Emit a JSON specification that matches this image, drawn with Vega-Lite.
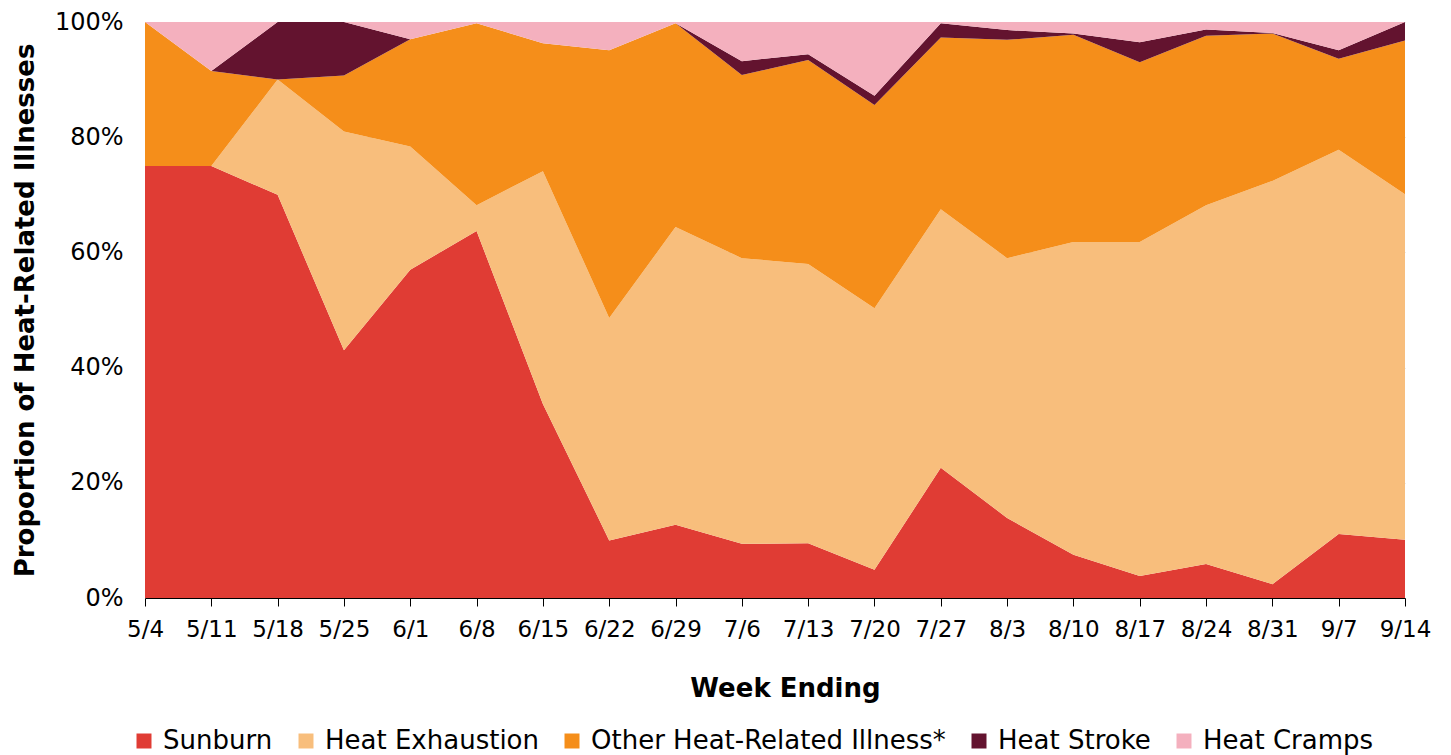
{
  "$schema": "https://vega.github.io/schema/vega-lite/v6.json",
  "width": 1260,
  "height": 576,
  "autosize": {"type": "none"},
  "padding": {"left": 145, "top": 22, "right": 46, "bottom": 157},
  "config": {
    "font": "DejaVu Sans",
    "view": {"stroke": null},
    "axis": {"labelColor": "#000000", "titleColor": "#000000"}
  },
  "datasets": {
    "stackorder": [
      {"illness": "Sunburn", "rank": 1},
      {"illness": "Heat Exhaustion", "rank": 2},
      {"illness": "Other Heat-Related Illness*", "rank": 3},
      {"illness": "Heat Stroke", "rank": 4},
      {"illness": "Heat Cramps", "rank": 5}
    ]
  },
  "data": {
    "values": [
      {"week": "5/4", "illness": "Sunburn", "pct": 75},
      {"week": "5/4", "illness": "Heat Exhaustion", "pct": 0},
      {"week": "5/4", "illness": "Other Heat-Related Illness*", "pct": 25},
      {"week": "5/4", "illness": "Heat Stroke", "pct": 0},
      {"week": "5/4", "illness": "Heat Cramps", "pct": 0},
      {"week": "5/11", "illness": "Sunburn", "pct": 75},
      {"week": "5/11", "illness": "Heat Exhaustion", "pct": 0},
      {"week": "5/11", "illness": "Other Heat-Related Illness*", "pct": 16.5},
      {"week": "5/11", "illness": "Heat Stroke", "pct": 0},
      {"week": "5/11", "illness": "Heat Cramps", "pct": 8.5},
      {"week": "5/18", "illness": "Sunburn", "pct": 70},
      {"week": "5/18", "illness": "Heat Exhaustion", "pct": 20},
      {"week": "5/18", "illness": "Other Heat-Related Illness*", "pct": 0},
      {"week": "5/18", "illness": "Heat Stroke", "pct": 10},
      {"week": "5/18", "illness": "Heat Cramps", "pct": 0},
      {"week": "5/25", "illness": "Sunburn", "pct": 43},
      {"week": "5/25", "illness": "Heat Exhaustion", "pct": 38},
      {"week": "5/25", "illness": "Other Heat-Related Illness*", "pct": 9.7},
      {"week": "5/25", "illness": "Heat Stroke", "pct": 9.3},
      {"week": "5/25", "illness": "Heat Cramps", "pct": 0},
      {"week": "6/1", "illness": "Sunburn", "pct": 57},
      {"week": "6/1", "illness": "Heat Exhaustion", "pct": 21.4},
      {"week": "6/1", "illness": "Other Heat-Related Illness*", "pct": 18.6},
      {"week": "6/1", "illness": "Heat Stroke", "pct": 0},
      {"week": "6/1", "illness": "Heat Cramps", "pct": 3},
      {"week": "6/8", "illness": "Sunburn", "pct": 63.7},
      {"week": "6/8", "illness": "Heat Exhaustion", "pct": 4.5},
      {"week": "6/8", "illness": "Other Heat-Related Illness*", "pct": 31.6},
      {"week": "6/8", "illness": "Heat Stroke", "pct": 0},
      {"week": "6/8", "illness": "Heat Cramps", "pct": 0.2},
      {"week": "6/15", "illness": "Sunburn", "pct": 33.7},
      {"week": "6/15", "illness": "Heat Exhaustion", "pct": 40.4},
      {"week": "6/15", "illness": "Other Heat-Related Illness*", "pct": 22.2},
      {"week": "6/15", "illness": "Heat Stroke", "pct": 0},
      {"week": "6/15", "illness": "Heat Cramps", "pct": 3.7},
      {"week": "6/22", "illness": "Sunburn", "pct": 10},
      {"week": "6/22", "illness": "Heat Exhaustion", "pct": 38.6},
      {"week": "6/22", "illness": "Other Heat-Related Illness*", "pct": 46.5},
      {"week": "6/22", "illness": "Heat Stroke", "pct": 0},
      {"week": "6/22", "illness": "Heat Cramps", "pct": 4.9},
      {"week": "6/29", "illness": "Sunburn", "pct": 12.7},
      {"week": "6/29", "illness": "Heat Exhaustion", "pct": 51.7},
      {"week": "6/29", "illness": "Other Heat-Related Illness*", "pct": 35.4},
      {"week": "6/29", "illness": "Heat Stroke", "pct": 0},
      {"week": "6/29", "illness": "Heat Cramps", "pct": 0.2},
      {"week": "7/6", "illness": "Sunburn", "pct": 9.4},
      {"week": "7/6", "illness": "Heat Exhaustion", "pct": 49.6},
      {"week": "7/6", "illness": "Other Heat-Related Illness*", "pct": 31.8},
      {"week": "7/6", "illness": "Heat Stroke", "pct": 2.4},
      {"week": "7/6", "illness": "Heat Cramps", "pct": 6.8},
      {"week": "7/13", "illness": "Sunburn", "pct": 9.5},
      {"week": "7/13", "illness": "Heat Exhaustion", "pct": 48.5},
      {"week": "7/13", "illness": "Other Heat-Related Illness*", "pct": 35.4},
      {"week": "7/13", "illness": "Heat Stroke", "pct": 1.0},
      {"week": "7/13", "illness": "Heat Cramps", "pct": 5.6},
      {"week": "7/20", "illness": "Sunburn", "pct": 4.9},
      {"week": "7/20", "illness": "Heat Exhaustion", "pct": 45.4},
      {"week": "7/20", "illness": "Other Heat-Related Illness*", "pct": 35.3},
      {"week": "7/20", "illness": "Heat Stroke", "pct": 1.6},
      {"week": "7/20", "illness": "Heat Cramps", "pct": 12.8},
      {"week": "7/27", "illness": "Sunburn", "pct": 22.6},
      {"week": "7/27", "illness": "Heat Exhaustion", "pct": 44.9},
      {"week": "7/27", "illness": "Other Heat-Related Illness*", "pct": 29.8},
      {"week": "7/27", "illness": "Heat Stroke", "pct": 2.5},
      {"week": "7/27", "illness": "Heat Cramps", "pct": 0.2},
      {"week": "8/3", "illness": "Sunburn", "pct": 13.9},
      {"week": "8/3", "illness": "Heat Exhaustion", "pct": 45.1},
      {"week": "8/3", "illness": "Other Heat-Related Illness*", "pct": 37.9},
      {"week": "8/3", "illness": "Heat Stroke", "pct": 1.7},
      {"week": "8/3", "illness": "Heat Cramps", "pct": 1.4},
      {"week": "8/10", "illness": "Sunburn", "pct": 7.5},
      {"week": "8/10", "illness": "Heat Exhaustion", "pct": 54.3},
      {"week": "8/10", "illness": "Other Heat-Related Illness*", "pct": 36},
      {"week": "8/10", "illness": "Heat Stroke", "pct": 0.2},
      {"week": "8/10", "illness": "Heat Cramps", "pct": 2},
      {"week": "8/17", "illness": "Sunburn", "pct": 3.8},
      {"week": "8/17", "illness": "Heat Exhaustion", "pct": 58},
      {"week": "8/17", "illness": "Other Heat-Related Illness*", "pct": 31.2},
      {"week": "8/17", "illness": "Heat Stroke", "pct": 3.5},
      {"week": "8/17", "illness": "Heat Cramps", "pct": 3.5},
      {"week": "8/24", "illness": "Sunburn", "pct": 5.9},
      {"week": "8/24", "illness": "Heat Exhaustion", "pct": 62.3},
      {"week": "8/24", "illness": "Other Heat-Related Illness*", "pct": 29.4},
      {"week": "8/24", "illness": "Heat Stroke", "pct": 1.1},
      {"week": "8/24", "illness": "Heat Cramps", "pct": 1.3},
      {"week": "8/31", "illness": "Sunburn", "pct": 2.4},
      {"week": "8/31", "illness": "Heat Exhaustion", "pct": 70},
      {"week": "8/31", "illness": "Other Heat-Related Illness*", "pct": 25.6},
      {"week": "8/31", "illness": "Heat Stroke", "pct": 0.1},
      {"week": "8/31", "illness": "Heat Cramps", "pct": 1.9},
      {"week": "9/7", "illness": "Sunburn", "pct": 11.1},
      {"week": "9/7", "illness": "Heat Exhaustion", "pct": 66.7},
      {"week": "9/7", "illness": "Other Heat-Related Illness*", "pct": 15.8},
      {"week": "9/7", "illness": "Heat Stroke", "pct": 1.5},
      {"week": "9/7", "illness": "Heat Cramps", "pct": 4.9},
      {"week": "9/14", "illness": "Sunburn", "pct": 10.1},
      {"week": "9/14", "illness": "Heat Exhaustion", "pct": 60},
      {"week": "9/14", "illness": "Other Heat-Related Illness*", "pct": 26.7},
      {"week": "9/14", "illness": "Heat Stroke", "pct": 3.2},
      {"week": "9/14", "illness": "Heat Cramps", "pct": 0}
    ]
  },
  "transform": [
    {
      "lookup": "illness",
      "from": {"data": {"name": "stackorder"}, "key": "illness", "fields": ["rank"]}
    }
  ],
  "mark": {"type": "area", "interpolate": "linear", "strokeWidth": 0},
  "encoding": {
    "x": {
      "field": "week",
      "type": "ordinal",
      "sort": null,
      "scale": {"type": "point", "padding": 0},
      "axis": {
        "title": "Week Ending",
        "labelAngle": 0,
        "labelFontSize": 23,
        "labelPadding": 12,
        "tickSize": 8,
        "tickColor": "#000000",
        "domainColor": "#000000",
        "grid": false,
        "titleFontSize": 26,
        "titleFontWeight": "bold",
        "titlePadding": 34,
        "titleX": 640
      }
    },
    "y": {
      "field": "pct",
      "type": "quantitative",
      "stack": "normalize",
      "scale": {"domain": [0, 1], "nice": false},
      "axis": {
        "title": "Proportion of Heat-Related Illnesses",
        "values": [0, 0.2, 0.4, 0.6, 0.8, 1],
        "format": ".0%",
        "labelFontSize": 24,
        "labelPadding": 22,
        "ticks": false,
        "tickSize": 0,
        "domain": false,
        "grid": true,
        "gridColor": "#D9D9D9",
        "gridWidth": 1,
        "titleFontSize": 26,
        "titleFontWeight": "bold",
        "titlePadding": 16
      }
    },
    "order": {"field": "rank", "type": "quantitative", "sort": "ascending"},
    "color": {
      "field": "illness",
      "type": "nominal",
      "sort": ["Sunburn", "Heat Exhaustion", "Other Heat-Related Illness*", "Heat Stroke", "Heat Cramps"],
      "scale": {
        "domain": ["Sunburn", "Heat Exhaustion", "Other Heat-Related Illness*", "Heat Stroke", "Heat Cramps"],
        "range": ["#E03C34", "#F8BE7C", "#F58E1A", "#63132F", "#F4B0BE"]
      },
      "legend": {
        "title": null,
        "orient": "none",
        "direction": "horizontal",
        "legendX": -14,
        "legendY": 706,
        "symbolType": "square",
        "symbolSize": 225,
        "symbolStrokeWidth": 0,
        "labelFontSize": 26,
        "labelColor": "#000000",
        "labelOffset": 6,
        "columnPadding": 20,
        "labelLimit": 600
      }
    }
  }
}
